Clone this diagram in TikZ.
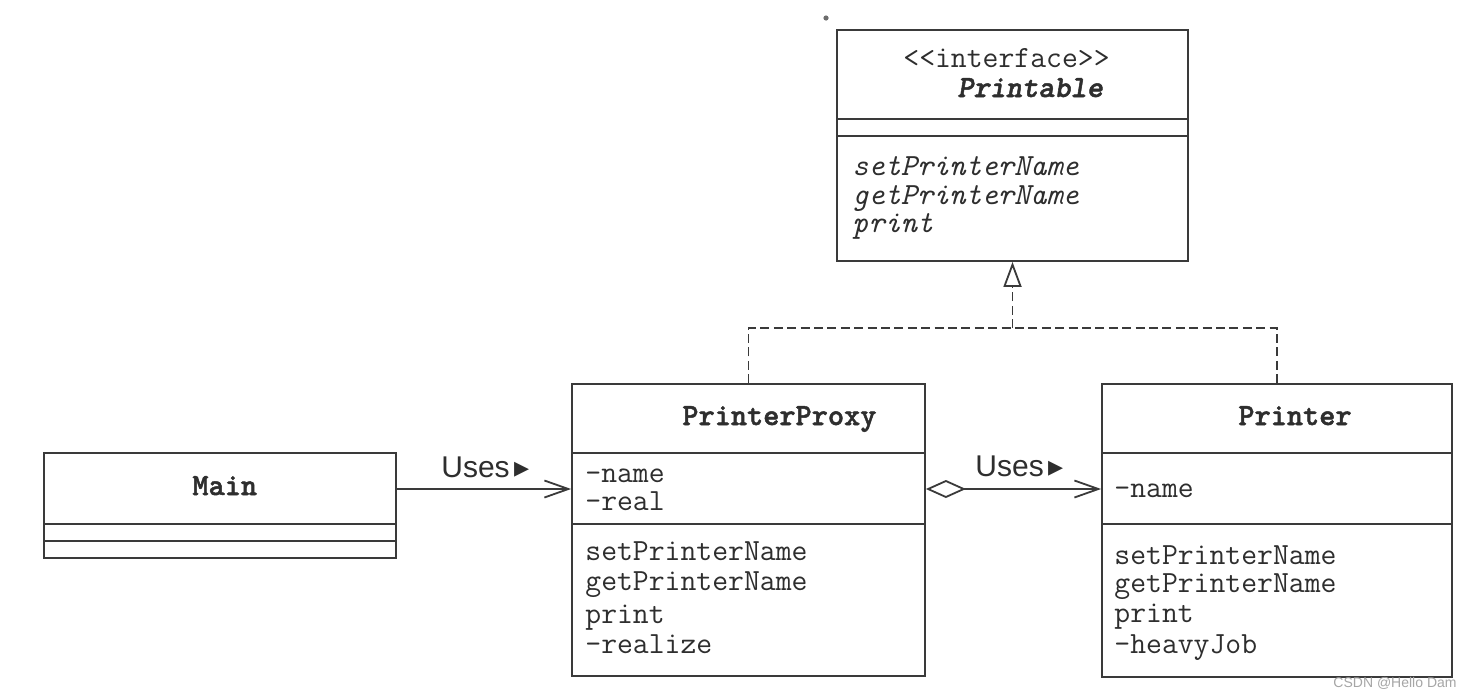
\documentclass[tikz,border=0pt]{standalone}
\usepackage{fontspec}
\usepackage{tikz}
\usetikzlibrary{arrows.meta,calc,positioning}
\newfontfamily\usesfont{Liberation Sans}
\newfontfamily\tipfont{DejaVu Sans}
\newfontfamily\namefont[FakeBold=1.6]{lmmonolt10-bold.otf}
\newfontfamily\ifcnamefont[FakeBold=1.6]{lmmonolt10-boldoblique.otf}
\definecolor{umlInk}{HTML}{2E2E2E}
\definecolor{umlLine}{HTML}{3A3A3A}
\definecolor{umlMark}{HTML}{A6A6A6}
\tikzset{
 uml/.style={line join=miter,text=umlInk},
 classbox/.style={draw=umlLine,fill=white,line width=.9pt,inner sep=0pt},
 divider/.style={draw=umlLine,line width=.9pt},
 member/.style={anchor=base west,inner sep=0pt,font=\fontsize{15.4}{18}\selectfont\ttfamily},
 classname/.style={member,font=\fontsize{15.4}{18}\selectfont\namefont},
 abstractop/.style={member,font=\fontsize{15.4}{18}\selectfont\ttfamily\itshape},
 useslabel/.style={anchor=base west,inner sep=0pt,font=\fontsize{15}{18}\selectfont\usesfont},
 assoc/.style={draw=umlLine,line width=.9pt,-{Straight Barb[length=12pt,width=8.5pt]}},
 aggr/.style={assoc,{Diamond[open,fill=white,length=20pt,width=9pt]}-{Straight Barb[length=12pt,width=8.5pt]}},
 realize/.style={draw=umlLine,line width=.9pt,dash pattern=on 4.5pt off 2.2pt},
 realizetip/.style={realize,-{Triangle[open,fill=white,length=12.5pt,width=9pt]}}
}
\newcommand{\usesTip}{{\tipfont\fontsize{15}{15}\selectfont ▸}}

\begin{document}
\begin{tikzpicture}[uml,x=.5pt,y=-.5pt]
 \fill[white] (0,0) rectangle (1472,697);
 \useasboundingbox (0,0) rectangle (1472,697);
 % class boxes
 \node[classbox,minimum width=175.5pt,minimum height=115.5pt] (printable) at (1012.5,145.5) {};
 \node[classbox,minimum width=176.5pt,minimum height=146pt] (proxy) at (748.5,530) {};
 \node[classbox,minimum width=175pt,minimum height=146.5pt] (printer) at (1277,530.5) {};
 \node[classbox,minimum width=176pt,minimum height=52.5pt] (main) at (220,505.5) {};
 \foreach \b/\y in {printable/119,printable/136,proxy/453,proxy/524,printer/453,printer/524,main/524,main/541}
  \draw[divider] (\b.west |- 0,\y) -- (\b.east |- 0,\y);
 % Printable
 \node[member] (ifc) at (903,67) {<{}<interface>{}>};
 \node[classname,font=\fontsize{15.4}{18}\selectfont\ifcnamefont] (printableName) at (957,97) {Printable};
 \node[abstractop] (ifcSet) at (852,175) {setPrinterName};
 \node[abstractop] (ifcGet) at (852,204) {getPrinterName};
 \node[abstractop] (ifcPrint) at (852,232) {print};
 % PrinterProxy
 \node[classname] (proxyName) at (682,425) {PrinterProxy};
 \node[member] (proxyAttrA) at (585,482) {-name};
 \node[member] (proxyAttrB) at (585,510) {-real};
 \node[member] (proxySet) at (585,560) {setPrinterName};
 \node[member] (proxyGet) at (585,590) {getPrinterName};
 \node[member] (proxyPrint) at (585,623) {print};
 \node[member] (proxyReal) at (585,653) {-realize};
 % Printer
 \node[classname] (printerName) at (1238,425) {Printer};
 \node[member] (printerAttr) at (1114,497) {-name};
 \node[member] (printerSet) at (1114,564) {setPrinterName};
 \node[member] (printerGet) at (1114,592) {getPrinterName};
 \node[member] (printerPrint) at (1114,622) {print};
 \node[member] (printerJob) at (1114,653) {-heavyJob};
 % Main
 \node[classname] (mainName) at (192,495) {Main};
 % connectors
 \coordinate (usesY) at (0,489);
 \draw[assoc] (main.east |- usesY) -- (proxy.west |- usesY);
 \draw[aggr] (proxy.east |- usesY) -- (printer.west |- usesY);
 \node[useslabel] (usesA) at (441,477) {Uses\,\usesTip};
 \node[useslabel] (usesB) at (975,476) {Uses\,\usesTip};
 \coordinate (join) at (printable.south |- 0,328);
 \draw[realize] (proxy.north) |- (join) -| (printer.north);
 \draw[realizetip] (join) -- (printable.south);
 % scan speck and watermark
 \fill[umlInk!70] (826,18) circle (1.3pt);
 \node[anchor=base east,inner sep=0pt,font=\fontsize{7}{8}\selectfont\usesfont,text=umlMark] (mark) at (1457,687) {CSDN @Hello Dam};
\end{tikzpicture}
\end{document}
